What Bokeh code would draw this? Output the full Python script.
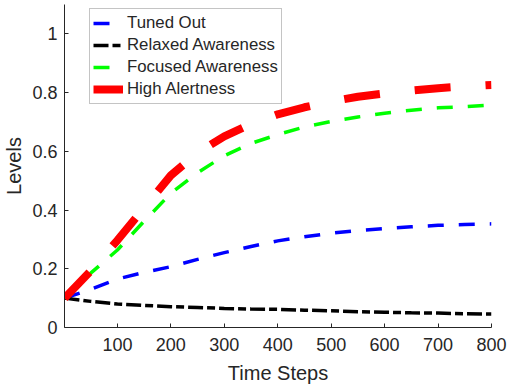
from bokeh.plotting import figure
from bokeh.models import Range1d, FixedTicker, Legend, LegendItem
from bokeh.embed import file_html
from bokeh.resources import INLINE

# Data
steps = [1, 50, 100, 150, 200, 250, 300, 350, 400, 450, 500, 550, 600, 650, 700, 750, 800]
tuned_out = [0.100, 0.130, 0.165, 0.188, 0.207, 0.232, 0.255, 0.276, 0.295, 0.309, 0.321,
             0.330, 0.337, 0.343, 0.348, 0.351, 0.353]
relaxed_awareness = [0.100, 0.089, 0.080, 0.075, 0.071, 0.068, 0.065, 0.063, 0.062, 0.059,
                     0.057, 0.054, 0.052, 0.050, 0.049, 0.047, 0.046]
focused_awareness = [0.100, 0.185, 0.264, 0.362, 0.457, 0.527, 0.585, 0.627, 0.657, 0.683,
                     0.702, 0.717, 0.730, 0.740, 0.748, 0.752, 0.758]
high_alertness = [0.100, 0.193, 0.297, 0.408, 0.518, 0.595, 0.651, 0.693, 0.726, 0.750,
                  0.770, 0.786, 0.797, 0.807, 0.815, 0.821, 0.826]

series_labels = ["Tuned Out", "Relaxed Awareness", "Focused Awareness", "High Alertness"]
x_ticks = [100, 200, 300, 400, 500, 600, 700, 800]
y_ticks = [0, 0.2, 0.4, 0.6, 0.8, 1.0]
x_label = "Time Steps"
y_label = "Levels"

FONT = "Liberation Sans"
INK = "#262626"

p = figure(width=507, height=390, output_backend="svg", toolbar_location=None,
           x_range=Range1d(1, 800), y_range=Range1d(0, 1.1),
           min_border_left=64, min_border_right=16, min_border_top=4, min_border_bottom=63)
p.outline_line_color = None
p.background_fill_color = "white"
p.border_fill_color = "white"
p.xgrid.visible = False
p.ygrid.visible = False

for ax, ticks in ((p.xaxis[0], x_ticks), (p.yaxis[0], y_ticks)):
    ax.ticker = FixedTicker(ticks=ticks)
    ax.axis_line_color = INK
    ax.axis_line_width = 1
    ax.major_tick_line_color = INK
    ax.major_tick_in = 4
    ax.major_tick_out = 0
    ax.minor_tick_line_color = None
    ax.major_label_text_font = FONT
    ax.major_label_text_font_size = "18px"
    ax.major_label_text_color = INK
    ax.axis_label_text_font = FONT
    ax.axis_label_text_font_size = "20px"
    ax.axis_label_text_font_style = "normal"
    ax.axis_label_text_color = INK

p.xaxis[0].axis_label = x_label
p.yaxis[0].axis_label = y_label
p.xaxis[0].major_label_standoff = 10
p.xaxis[0].axis_label_standoff = 8
p.yaxis[0].major_label_standoff = 7
p.yaxis[0].axis_label_standoff = 4
p.yaxis[0].major_label_overrides = {0: "0", 1: "1"}

r1 = p.line(steps, tuned_out, line_color="#0000FF", line_width=3.5, line_dash="16 15")
r2 = p.line(steps, relaxed_awareness, line_color="#000000", line_width=3.5, line_dash="15 4 8 4")
r3 = p.line(steps, focused_awareness, line_color="#00FF00", line_width=3.5, line_dash="16 15")
r4 = p.line(steps, high_alertness, line_color="#FF0000", line_width=8, line_dash="36 35")

legend = Legend(items=[LegendItem(label=series_labels[i], renderers=[r])
                       for i, r in enumerate([r1, r2, r3, r4])],
                location=(25, 223), padding=3, spacing=0, margin=0,
                glyph_width=30, glyph_height=22, label_height=22, label_standoff=4,
                label_text_font=FONT, label_text_font_size="16.8px", label_text_color=INK,
                border_line_color="#8a8a8a", border_line_width=1,
                background_fill_color="white", background_fill_alpha=1)
p.add_layout(legend, "center")

open("out.html", "w").write(file_html(p, INLINE))
